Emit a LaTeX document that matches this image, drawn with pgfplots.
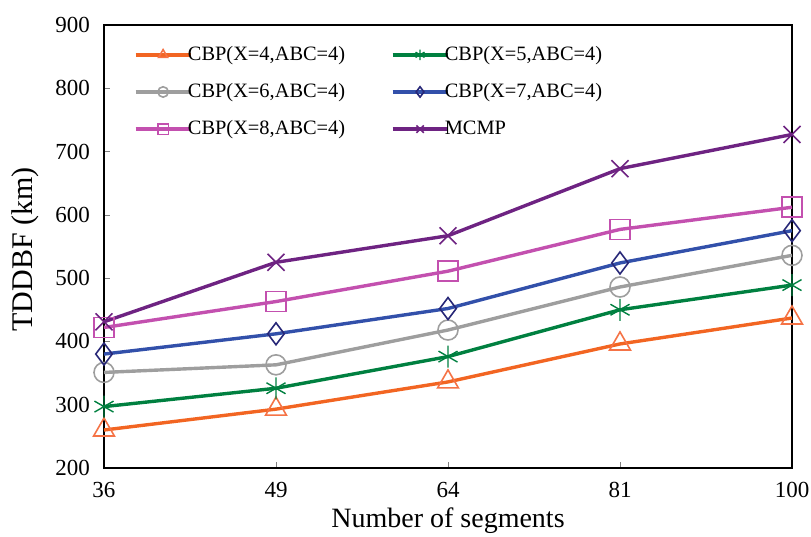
\documentclass[border=0pt]{standalone}
\usepackage{pgfplots}
\pgfplotsset{compat=1.18}
\usepackage{fontspec}
\setmainfont{Liberation Serif}
\definecolor{cA}{RGB}{242,101,34}
\definecolor{cAm}{RGB}{245,115,70}
\definecolor{cB}{RGB}{0,128,64}
\definecolor{cC}{RGB}{158,158,158}
\definecolor{cD}{RGB}{50,80,170}
\definecolor{cDm}{RGB}{40,40,120}
\definecolor{cE}{RGB}{195,80,175}
\definecolor{cF}{RGB}{110,35,130}
\begin{document}
\begin{tikzpicture}
\begin{axis}[
  scale only axis,
  width=344pt, height=221.5pt,
  xmin=0, xmax=4, ymin=200, ymax=900,
  xtick={0,1,2,3,4}, xticklabels={36,49,64,81,100},
  ytick={200,300,...,900},
  tick align=inside, tick pos=left,
  major tick length=3pt,
  /pgf/number format/assume math mode=true,
  ticklabel style={font=\fontsize{11.5}{13}\selectfont},
  yticklabel style={xshift=-3.5pt},
  xticklabel style={yshift=-3.5pt},
  xlabel={Number of segments}, ylabel={TDDBF (km)},
  every axis x label/.style={at={([yshift=-30pt]axis description cs:0.5,0)}, anchor=base, font=\fontsize{14}{16}\selectfont},
  every axis y label/.style={at={([xshift=-35.5pt,yshift=-1.5pt]axis description cs:0,0.5)}, rotate=90, anchor=base, font=\fontsize{15}{17}\selectfont},
  axis line style={line width=0.8pt},
  every axis plot/.append style={line width=1.7pt},
  legend style={draw=none, fill=none, at={(axis description cs:0.042,0.962)}, anchor=north west, font=\fontsize{10.2}{12}\selectfont, row sep=6pt, inner sep=0pt,
    /tikz/every odd column/.append style={column sep=-4.5pt},
    /tikz/every even column/.append style={column sep=20.5pt}},
  legend columns=2,
  legend cell align=left,
  legend image code/.code={
    \draw[#1, mark=none, line width=2.3pt] (0pt,0pt) -- (27.5pt,0pt);
    \draw[#1, line width=0.6pt, mark size=2.6pt] plot coordinates {(13.75pt,0pt)};
  },
]
\addplot[color=cA, mark=triangle, mark size=6pt, mark options={solid, draw=cAm, line width=0.8pt, fill=none}] coordinates {(0,260) (1,293) (2,336) (3,396) (4,437)};
\addlegendentry{CBP(X=4,ABC=4)}
\addplot[color=cB, mark=asterisk, mark size=5.5pt, mark options={solid, line width=0.7pt}] coordinates {(0,297) (1,326) (2,376) (3,450) (4,489)};
\addlegendentry{CBP(X=5,ABC=4)}
\addplot[color=cC, mark=o, mark size=5pt, mark options={solid, line width=0.8pt, fill=none}] coordinates {(0,351) (1,363) (2,418) (3,486) (4,536)};
\addlegendentry{CBP(X=6,ABC=4)}
\addplot[color=cD, mark=diamond, mark size=5.5pt, mark options={solid, draw=cDm, line width=0.8pt, fill=none}] coordinates {(0,380) (1,412) (2,452) (3,524) (4,575)};
\addlegendentry{CBP(X=7,ABC=4)}
\addplot[color=cE, mark=square, mark size=5pt, mark options={solid, line width=0.8pt, fill=none}] coordinates {(0,422) (1,463) (2,511) (3,577) (4,612)};
\addlegendentry{CBP(X=8,ABC=4)}
\addplot[color=cF, mark=x, mark size=6pt, mark options={solid, line width=0.8pt}] coordinates {(0,431) (1,525) (2,567) (3,673) (4,727)};
\addlegendentry{MCMP}
\coordinate (sw) at (rel axis cs:0,0);
\coordinate (ne) at (rel axis cs:1,1);
\end{axis}
\pgfresetboundingbox
\path ([shift={(-52pt,-34.5pt)}]sw) rectangle ([shift={(9.5pt,12.5pt)}]ne);
\end{tikzpicture}
\end{document}
